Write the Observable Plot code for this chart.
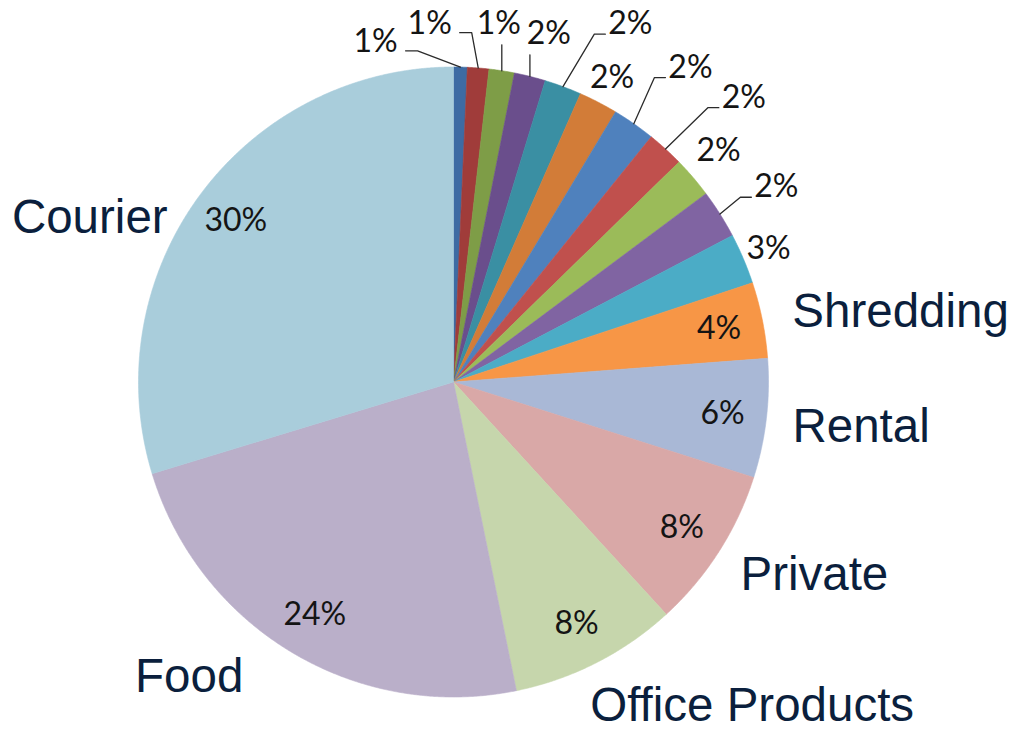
<!DOCTYPE html>
<html>
<head>
<meta charset="utf-8">
<script src="https://cdn.jsdelivr.net/npm/d3@7"></script>
<script src="https://cdn.jsdelivr.net/npm/@observablehq/plot@0.6"></script>
<style>
  html, body { margin: 0; padding: 0; background: #fff; }
  #chart svg { display: block; }
</style>
</head>
<body>
<div id="chart"></div>
<script>
// ---- Data (clockwise from 12 o'clock) ----
const categories = ["", "", "", "", "", "", "", "", "", "", "", "Shredding", "Rental", "Private", "Office Products", "Food", "Courier"];
const shares = [0.7, 1.1, 1.3, 1.6, 1.9, 2.0, 2.2, 1.9, 2.1, 2.5, 2.6, 3.9, 6.1, 8.3, 8.6, 23.5, 29.7];
const pctLabels = ["1%", "1%", "1%", "2%", "2%", "2%", "2%", "2%", "2%", "2%", "3%", "4%", "6%", "8%", "8%", "24%", "30%"];
const colors = ["#3E6BA3", "#A03C3A", "#7E9D47", "#6A4E8C", "#3A8FA3", "#D27C38",
                "#4F81BD", "#C0504D", "#9BBB59", "#8064A2", "#4BACC6", "#F79646",
                "#A9B8D6", "#D9A8A7", "#C6D6AC", "#BAAFC9", "#A9CDDB"];

// ---- Layout ----
const W = 1014, H = 734;
const cx = 453, cy = 381.5, R = 315;
// outside labels of the small slices: [angle (deg, clockwise from top), radius in R units]
const outerLabelPolar = [[-12.9, 1.108], [-3.8, 1.14], [7.2, 1.146], [15.3, 1.146], [26.3, 1.267], [27.5, 1.09],
                         [37, 1.25], [45.6, 1.29], [48.9, 1.117], [58.9, 1.197], [67.1, 1.086]];
const withLeader = [0, 1, 2, 3, 4, 6, 7, 9];
const innerLabelRadius = 0.86;
// category names: [angle, radius, anchor] at baseline
const namePolar = {
  "Shredding": [80.7, 1.09, "start"],
  "Rental": [100.1, 1.093, "start"],
  "Private": [126, 1.126, "start"],
  "Office Products": [158, 1.159, "start"],
  "Food": [214.1, 1.19, "end"],
  "Courier": [297.6, 1.024, "end"]
};

const rad = d => d * Math.PI / 180;
const polar = (a, r) => ({x: r * Math.sin(a), y: r * Math.cos(a)}); // data units (R = 1), y up
const toData = (px, py) => ({x: (px - cx) / R, y: (cy - py) / R});
const toPx = (p) => ({px: cx + p.x * R, py: cy - p.y * R});

const arcs = d3.pie().sort(null).value(d => d)(shares);

// slice polygons
const slices = [];
arcs.forEach((a, i) => {
  const n = Math.max(2, Math.ceil((a.endAngle - a.startAngle) / 0.004) + 1);
  slices.push({i, color: colors[i], ...polar(0, 0)});
  for (let k = 0; k < n; k++) {
    const t = a.startAngle + (a.endAngle - a.startAngle) * k / (n - 1);
    slices.push({i, color: colors[i], ...polar(t, 1)});
  }
  slices.push({i, color: colors[i], ...polar(0, 0)});
});

// percent labels
const pctData = arcs.map((a, i) => {
  const mid = (a.startAngle + a.endAngle) / 2;
  let p;
  if (i < outerLabelPolar.length) p = polar(rad(outerLabelPolar[i][0]), outerLabelPolar[i][1]);
  else p = polar(mid, innerLabelRadius);
  return {i, label: pctLabels[i], mid, ...p};
});

// leader lines
const leaders = [];
withLeader.forEach(i => {
  const d = pctData[i];
  const e = toPx(polar(d.mid, 1));
  const l = toPx(d);
  const w = 22 * d.label.length;
  let pts;
  if (e.px >= l.px - w / 2 && e.px <= l.px + w / 2) {
    pts = [[e.px, e.py], [e.px, l.py + 21]];
  } else if (e.px > l.px + w / 2) {
    const end = [l.px + w / 2 + 8, l.py + 9];
    pts = [[e.px, e.py], [end[0] + 12, end[1]], end];
  } else {
    const end = [l.px - w / 2 - 3, l.py + 10];
    pts = [[e.px, e.py], [end[0] - 11, end[1]], end];
  }
  pts.forEach(p => leaders.push({i, ...toData(p[0], p[1])}));
});

// names
const nameData = categories.map((c, i) => ({c, i})).filter(d => d.c !== "").map(d => {
  const [ang, r, anchor] = namePolar[d.c];
  return {name: d.c, anchor, ...polar(rad(ang), r)};
});

const chart = Plot.plot({
  width: W,
  height: H,
  margin: 0,
  x: {domain: [-cx / R, (W - cx) / R], range: [0, W], axis: null},
  y: {domain: [-(H - cy) / R, cy / R], range: [H, 0], axis: null},
  color: {type: "identity"},
  marks: [
    Plot.line(slices, {x: "x", y: "y", z: "i", fill: "color", stroke: "color", strokeWidth: 0.6, curve: "linear"}),
    Plot.line(leaders, {x: "x", y: "y", z: "i", stroke: "#2b2b2b", strokeWidth: 1.3, curve: "linear"}),
    Plot.text(pctData, {x: "x", y: "y", text: "label", fontFamily: "Lato", fontSize: 32, fill: "#141414", textAnchor: "middle", lineAnchor: "middle"}),
    Plot.text(nameData.filter(d => d.anchor === "start"), {x: "x", y: "y", text: "name", fontFamily: "Liberation Sans", fontSize: 47.5, fill: "#0B1F3D", textAnchor: "start", lineAnchor: "bottom"}),
    Plot.text(nameData.filter(d => d.anchor === "end"), {x: "x", y: "y", text: "name", fontFamily: "Liberation Sans", fontSize: 47.5, fill: "#0B1F3D", textAnchor: "end", lineAnchor: "bottom"})
  ]
});
document.getElementById("chart").appendChild(chart);
</script>
</body>
</html>
